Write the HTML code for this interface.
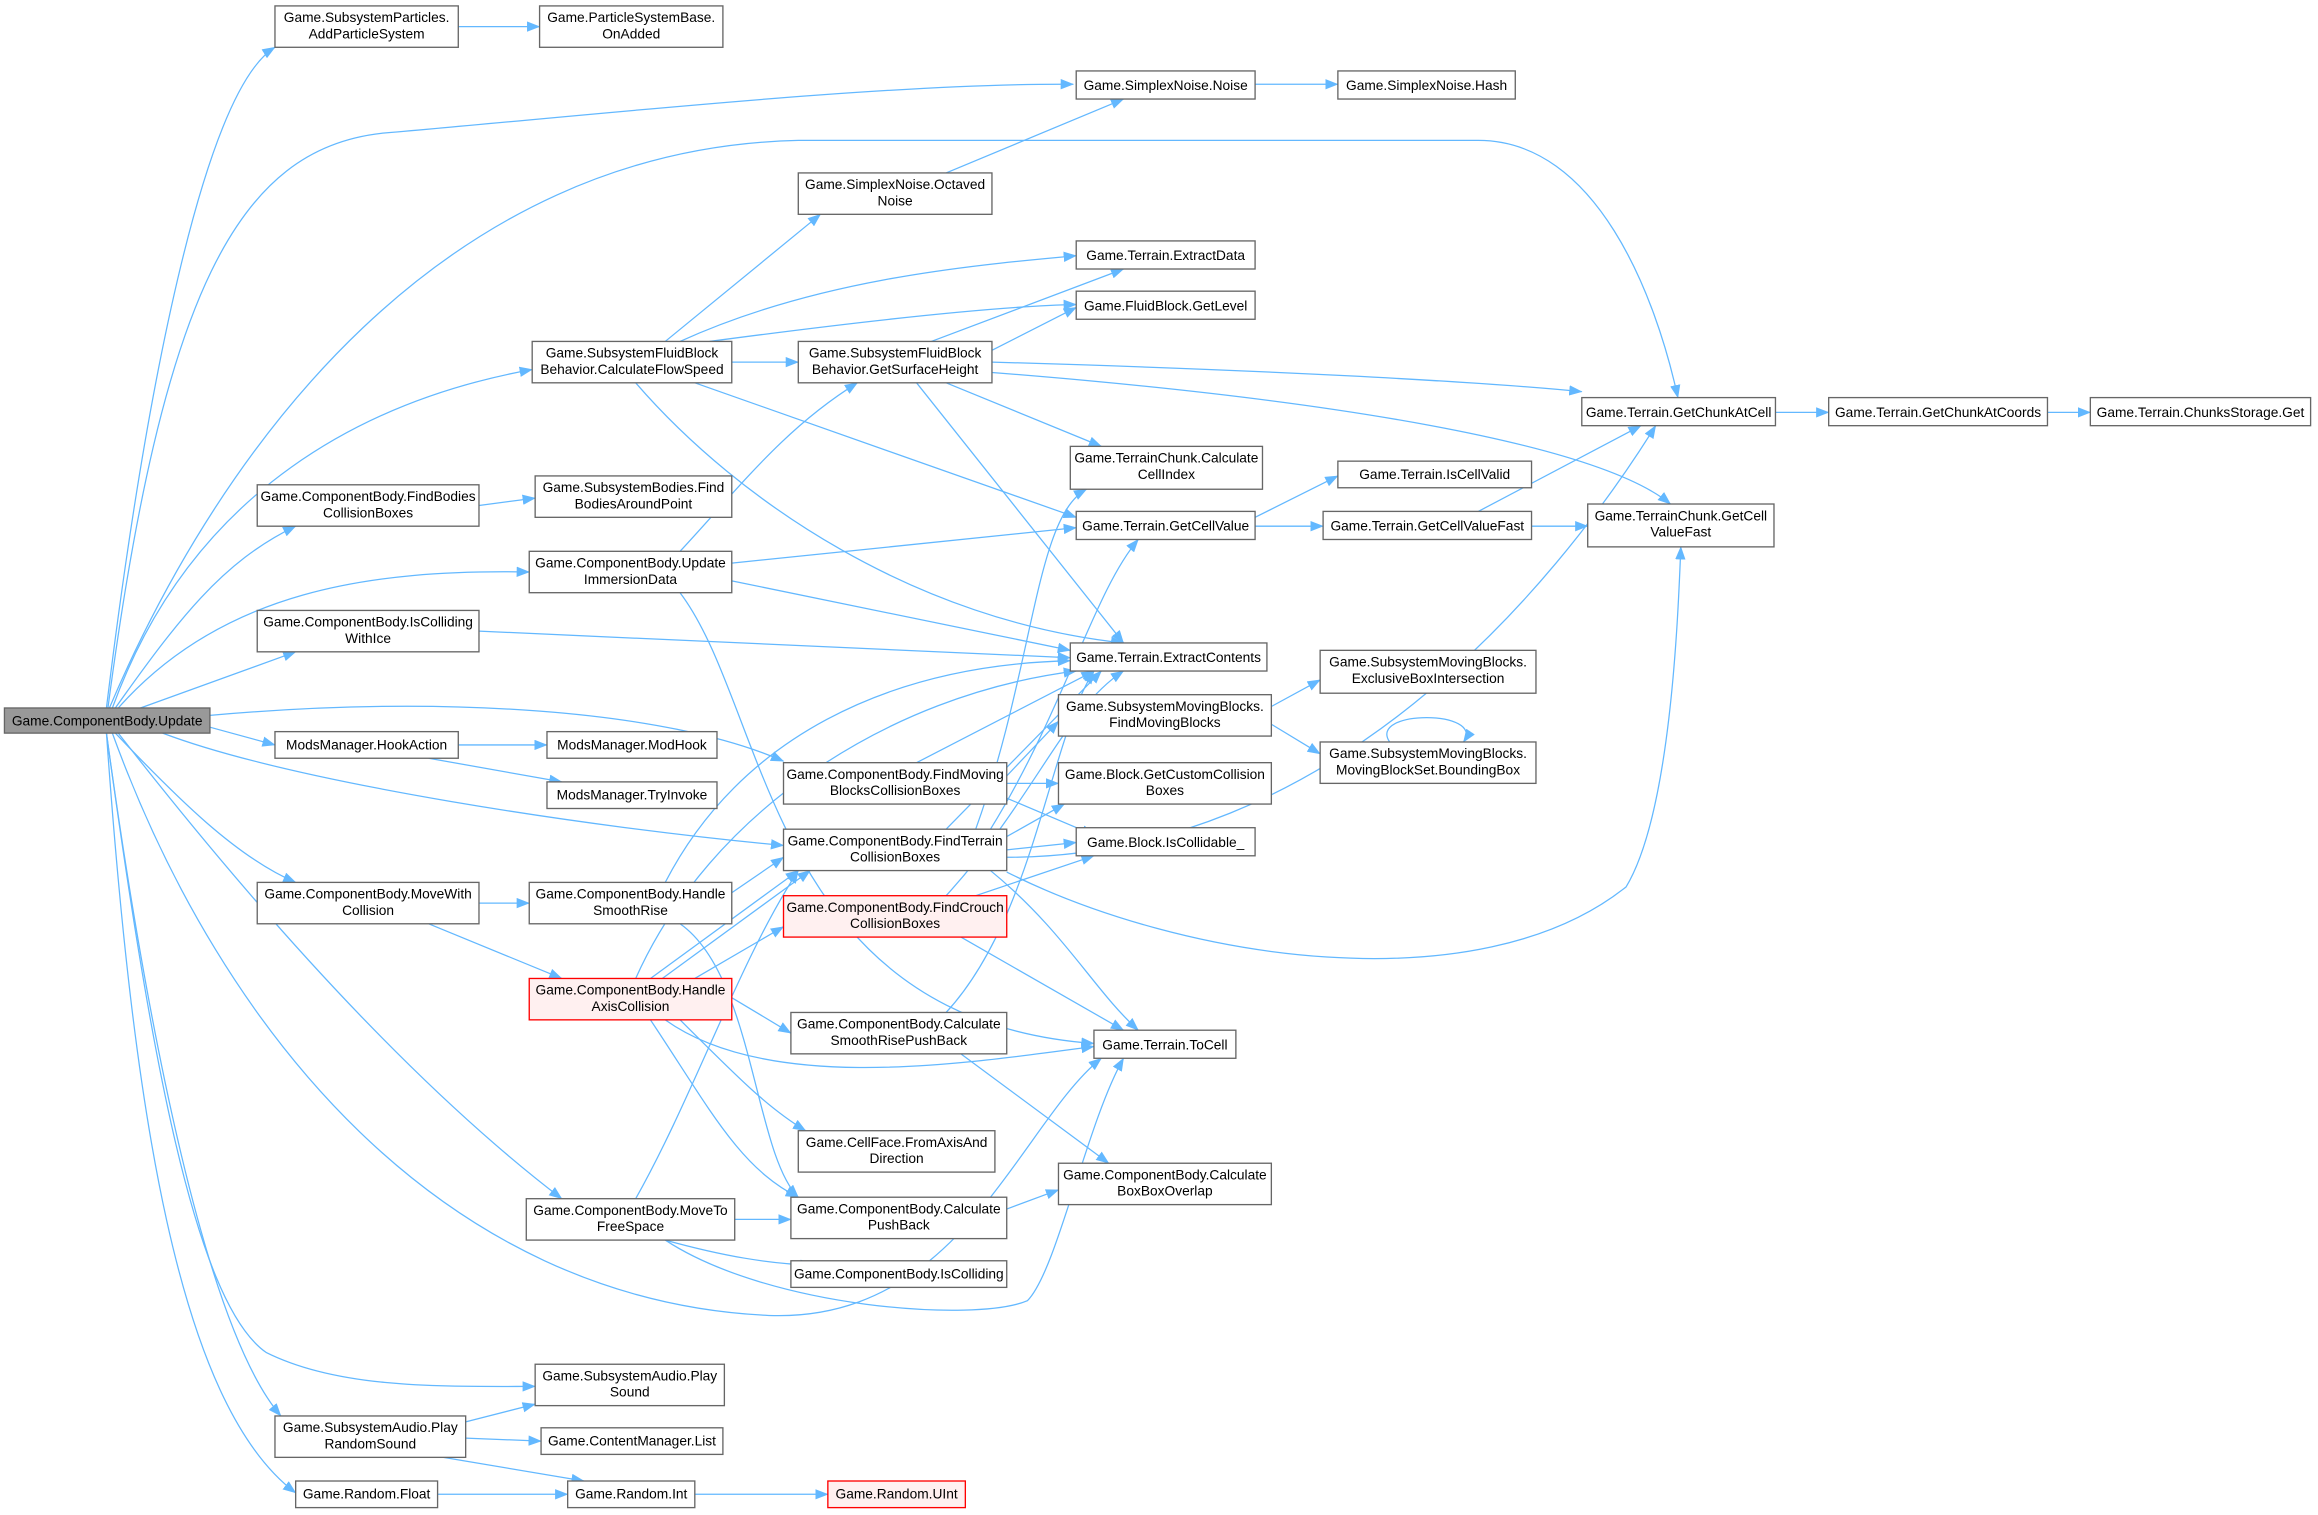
<!DOCTYPE html>
<html><head><meta charset="utf-8"><style>
html,body{margin:0;padding:0;background:#fff;}
svg{display:block;}
text{font-family:"Liberation Sans",Arial,sans-serif;font-size:9.3px;fill:#000;text-anchor:middle;}
.e{fill:none;stroke:#63b8ff;stroke-width:0.85;marker-end:url(#a);}
.n{fill:#fff;stroke:#666;stroke-width:0.9;}
.r{fill:#fff0f0;stroke:#ff0000;stroke-width:0.9;}
.g{fill:#999;stroke:#666;stroke-width:0.9;}
</style></head><body>
<svg width="2318" height="1515" viewBox="0 0 1568 1025" preserveAspectRatio="none" xmlns="http://www.w3.org/2000/svg">
<defs><marker id="a" markerWidth="9" markerHeight="7" refX="8.5" refY="3.5" orient="auto" markerUnits="userSpaceOnUse"><path d="M0,0 L9,3.5 L0,7 z" fill="#63b8ff"/></marker></defs>
<g>
<path class="e" d="M72,479 C100,250 140,60 186,32"/>
<path class="e" d="M73,479 C110,200 160,100 260,90 C400,78 600,56 726,57"/>
<path class="e" d="M74,479 C150,300 300,100 540,95 L1000,95 C1080,95 1120,200 1135,269"/>
<path class="e" d="M76,479 C130,330 250,270 360,250"/>
<path class="e" d="M78,479 C120,420 150,380 200,356"/>
<path class="e" d="M80,479 C150,400 250,385 358,387"/>
<path class="e" d="M95,479 C140,463 170,452 200,441"/>
<path class="e" d="M142,484 C300,470 450,480 530,515"/>
<path class="e" d="M142,492 L186,504"/>
<path class="e" d="M110,496 C200,530 400,560 530,572"/>
<path class="e" d="M78,496 C120,540 160,580 200,597"/>
<path class="e" d="M80,496 C200,650 300,750 380,811"/>
<path class="e" d="M76,496 C150,700 300,880 520,890 C650,895 690,760 745,716"/>
<path class="e" d="M72,496 C100,700 130,880 180,915 C230,940 300,938 362,938"/>
<path class="e" d="M72,496 C100,700 140,900 190,958"/>
<path class="e" d="M72,496 C90,750 120,950 200,1010"/>
<path class="e" d="M310,18 L365,18"/>
<path class="e" d="M849,57 L905,57"/>
<path class="e" d="M640,117 L760,67"/>
<path class="e" d="M450,231 L555,145"/>
<path class="e" d="M460,231 C550,190 650,180 728,173"/>
<path class="e" d="M480,231 C600,215 680,207 728,206"/>
<path class="e" d="M495,245 L540,245"/>
<path class="e" d="M470,259 L728,350"/>
<path class="e" d="M430,259 C500,340 620,420 760,435"/>
<path class="e" d="M630,231 L760,182"/>
<path class="e" d="M671,237 L728,208"/>
<path class="e" d="M671,245 C850,250 1000,258 1070,265"/>
<path class="e" d="M671,252 C900,270 1080,300 1130,341"/>
<path class="e" d="M640,259 L745,302"/>
<path class="e" d="M620,259 L760,435"/>
<path class="e" d="M1201,279 L1237,279"/>
<path class="e" d="M1385,279 L1414,279"/>
<path class="e" d="M324,342 L362,337"/>
<path class="e" d="M460,373 C500,330 530,290 580,259"/>
<path class="e" d="M495,381 L728,357"/>
<path class="e" d="M495,393 L724,440"/>
<path class="e" d="M460,401 C520,480 520,690 740,706"/>
<path class="e" d="M849,350 L905,322"/>
<path class="e" d="M849,356 L895,356"/>
<path class="e" d="M1000,346 L1110,288"/>
<path class="e" d="M1036,356 L1074,356"/>
<path class="e" d="M324,427 L724,445"/>
<path class="e" d="M310,504 L370,504"/>
<path class="e" d="M290,513 L380,529"/>
<path class="e" d="M620,516 L740,454"/>
<path class="e" d="M681,525 L716,488"/>
<path class="e" d="M681,530 L716,530"/>
<path class="e" d="M681,540 L740,565"/>
<path class="e" d="M860,478 L893,460"/>
<path class="e" d="M860,490 L893,510"/>
<path class="e" d="M940,502 C925,480 1005,480 990,502"/>
<path class="e" d="M640,561 L745,454"/>
<path class="e" d="M670,561 C720,480 740,400 770,365"/>
<path class="e" d="M681,566 L720,544"/>
<path class="e" d="M681,575 L728,570"/>
<path class="e" d="M681,580 C900,580 1050,400 1120,288"/>
<path class="e" d="M681,590 C800,650 1000,680 1100,600 C1130,550 1135,420 1137,370"/>
<path class="e" d="M670,589 C720,630 740,670 770,697"/>
<path class="e" d="M660,561 C700,450 700,350 735,331"/>
<path class="e" d="M640,606 C700,540 720,480 760,454"/>
<path class="e" d="M660,606 L740,579"/>
<path class="e" d="M650,634 L760,697"/>
<path class="e" d="M324,611 L358,611"/>
<path class="e" d="M290,625 L380,662"/>
<path class="e" d="M495,604 L530,580"/>
<path class="e" d="M450,597 C500,500 600,450 724,447"/>
<path class="e" d="M460,625 C510,660 510,780 540,810"/>
<path class="e" d="M440,662 L540,589"/>
<path class="e" d="M448,662 L548,589"/>
<path class="e" d="M430,662 C480,550 600,470 728,454"/>
<path class="e" d="M470,662 L530,627"/>
<path class="e" d="M495,675 L535,699"/>
<path class="e" d="M450,690 C520,740 650,720 740,708"/>
<path class="e" d="M460,690 C500,730 520,750 545,765"/>
<path class="e" d="M440,690 C480,750 500,790 540,810"/>
<path class="e" d="M640,685 C700,620 710,500 740,454"/>
<path class="e" d="M650,713 L750,787"/>
<path class="e" d="M430,811 C470,740 500,650 540,589"/>
<path class="e" d="M497,825 L535,825"/>
<path class="e" d="M450,839 C490,850 520,855 550,856"/>
<path class="e" d="M450,839 C520,885 660,895 695,880 C715,860 735,760 760,716"/>
<path class="e" d="M681,818 L716,805"/>
<path class="e" d="M315,962 L362,950"/>
<path class="e" d="M315,973 L366,975"/>
<path class="e" d="M300,986 L395,1002"/>
<path class="e" d="M296,1011 L384,1011"/>
<path class="e" d="M470,1011 L560,1011"/>
</g>
<g>
<rect class="g" x="3" y="479" width="139" height="17"/><text x="72.5" y="491">Game.ComponentBody.Update</text>
<rect class="n" x="186" y="4" width="124" height="28"/><text x="248" y="15">Game.SubsystemParticles.</text><text x="248" y="26">AddParticleSystem</text>
<rect class="n" x="365" y="4" width="124" height="28"/><text x="427" y="15">Game.ParticleSystemBase.</text><text x="427" y="26">OnAdded</text>
<rect class="n" x="728" y="48" width="121" height="19"/><text x="788.5" y="61">Game.SimplexNoise.Noise</text>
<rect class="n" x="905" y="48" width="120" height="19"/><text x="965" y="61">Game.SimplexNoise.Hash</text>
<rect class="n" x="540" y="117" width="131" height="28"/><text x="605.5" y="128">Game.SimplexNoise.Octaved</text><text x="605.5" y="139">Noise</text>
<rect class="n" x="728" y="163" width="121" height="19"/><text x="788.5" y="176">Game.Terrain.ExtractData</text>
<rect class="n" x="728" y="197" width="121" height="19"/><text x="788.5" y="210">Game.FluidBlock.GetLevel</text>
<rect class="n" x="360" y="231" width="135" height="28"/><text x="427.5" y="242">Game.SubsystemFluidBlock</text><text x="427.5" y="253">Behavior.CalculateFlowSpeed</text>
<rect class="n" x="540" y="231" width="131" height="28"/><text x="605.5" y="242">Game.SubsystemFluidBlock</text><text x="605.5" y="253">Behavior.GetSurfaceHeight</text>
<rect class="n" x="1070" y="269" width="131" height="19"/><text x="1135.5" y="282">Game.Terrain.GetChunkAtCell</text>
<rect class="n" x="1237" y="269" width="148" height="19"/><text x="1311" y="282">Game.Terrain.GetChunkAtCoords</text>
<rect class="n" x="1414" y="269" width="149" height="19"/><text x="1488.5" y="282">Game.Terrain.ChunksStorage.Get</text>
<rect class="n" x="724" y="302" width="130" height="29"/><text x="789" y="313">Game.TerrainChunk.Calculate</text><text x="789" y="324">CellIndex</text>
<rect class="n" x="905" y="312" width="131" height="18"/><text x="970.5" y="324">Game.Terrain.IsCellValid</text>
<rect class="n" x="174" y="328" width="150" height="28"/><text x="249" y="339">Game.ComponentBody.FindBodies</text><text x="249" y="350">CollisionBoxes</text>
<rect class="n" x="362" y="322" width="133" height="28"/><text x="428.5" y="333">Game.SubsystemBodies.Find</text><text x="428.5" y="344">BodiesAroundPoint</text>
<rect class="n" x="728" y="346" width="121" height="19"/><text x="788.5" y="359">Game.Terrain.GetCellValue</text>
<rect class="n" x="895" y="346" width="141" height="19"/><text x="965.5" y="359">Game.Terrain.GetCellValueFast</text>
<rect class="n" x="1074" y="341" width="126" height="29"/><text x="1137" y="352">Game.TerrainChunk.GetCell</text><text x="1137" y="363">ValueFast</text>
<rect class="n" x="358" y="373" width="137" height="28"/><text x="426.5" y="384">Game.ComponentBody.Update</text><text x="426.5" y="395">ImmersionData</text>
<rect class="n" x="174" y="413" width="150" height="28"/><text x="249" y="424">Game.ComponentBody.IsColliding</text><text x="249" y="435">WithIce</text>
<rect class="n" x="724" y="435" width="133" height="19"/><text x="790.5" y="448">Game.Terrain.ExtractContents</text>
<rect class="n" x="893" y="440" width="146" height="29"/><text x="966" y="451">Game.SubsystemMovingBlocks.</text><text x="966" y="462">ExclusiveBoxIntersection</text>
<rect class="n" x="716" y="470" width="144" height="28"/><text x="788" y="481">Game.SubsystemMovingBlocks.</text><text x="788" y="492">FindMovingBlocks</text>
<rect class="n" x="186" y="495" width="124" height="18"/><text x="248" y="507">ModsManager.HookAction</text>
<rect class="n" x="370" y="495" width="115" height="18"/><text x="427.5" y="507">ModsManager.ModHook</text>
<rect class="n" x="370" y="529" width="115" height="18"/><text x="427.5" y="541">ModsManager.TryInvoke</text>
<rect class="n" x="530" y="516" width="151" height="28"/><text x="605.5" y="527">Game.ComponentBody.FindMoving</text><text x="605.5" y="538">BlocksCollisionBoxes</text>
<rect class="n" x="893" y="502" width="146" height="28"/><text x="966" y="513">Game.SubsystemMovingBlocks.</text><text x="966" y="524">MovingBlockSet.BoundingBox</text>
<rect class="n" x="716" y="516" width="144" height="28"/><text x="788" y="527">Game.Block.GetCustomCollision</text><text x="788" y="538">Boxes</text>
<rect class="n" x="728" y="560" width="121" height="19"/><text x="788.5" y="573">Game.Block.IsCollidable_</text>
<rect class="n" x="530" y="561" width="151" height="28"/><text x="605.5" y="572">Game.ComponentBody.FindTerrain</text><text x="605.5" y="583">CollisionBoxes</text>
<rect class="n" x="174" y="597" width="150" height="28"/><text x="249" y="608">Game.ComponentBody.MoveWith</text><text x="249" y="619">Collision</text>
<rect class="n" x="358" y="597" width="137" height="28"/><text x="426.5" y="608">Game.ComponentBody.Handle</text><text x="426.5" y="619">SmoothRise</text>
<rect class="r" x="530" y="606" width="151" height="28"/><text x="605.5" y="617">Game.ComponentBody.FindCrouch</text><text x="605.5" y="628">CollisionBoxes</text>
<rect class="r" x="358" y="662" width="137" height="28"/><text x="426.5" y="673">Game.ComponentBody.Handle</text><text x="426.5" y="684">AxisCollision</text>
<rect class="n" x="535" y="685" width="146" height="28"/><text x="608" y="696">Game.ComponentBody.Calculate</text><text x="608" y="707">SmoothRisePushBack</text>
<rect class="n" x="740" y="697" width="96" height="19"/><text x="788" y="710">Game.Terrain.ToCell</text>
<rect class="n" x="540" y="765" width="133" height="28"/><text x="606.5" y="776">Game.CellFace.FromAxisAnd</text><text x="606.5" y="787">Direction</text>
<rect class="n" x="716" y="787" width="144" height="28"/><text x="788" y="798">Game.ComponentBody.Calculate</text><text x="788" y="809">BoxBoxOverlap</text>
<rect class="n" x="356" y="811" width="141" height="28"/><text x="426.5" y="822">Game.ComponentBody.MoveTo</text><text x="426.5" y="833">FreeSpace</text>
<rect class="n" x="535" y="810" width="146" height="28"/><text x="608" y="821">Game.ComponentBody.Calculate</text><text x="608" y="832">PushBack</text>
<rect class="n" x="535" y="853" width="146" height="18"/><text x="608" y="865">Game.ComponentBody.IsColliding</text>
<rect class="n" x="362" y="923" width="128" height="28"/><text x="426" y="934">Game.SubsystemAudio.Play</text><text x="426" y="945">Sound</text>
<rect class="n" x="186" y="958" width="129" height="28"/><text x="250.5" y="969">Game.SubsystemAudio.Play</text><text x="250.5" y="980">RandomSound</text>
<rect class="n" x="366" y="966" width="123" height="18"/><text x="427.5" y="978">Game.ContentManager.List</text>
<rect class="n" x="200" y="1002" width="96" height="18"/><text x="248" y="1014">Game.Random.Float</text>
<rect class="n" x="384" y="1002" width="86" height="18"/><text x="427" y="1014">Game.Random.Int</text>
<rect class="r" x="560" y="1002" width="93" height="18"/><text x="606.5" y="1014">Game.Random.UInt</text>
</g>
</svg>
</body></html>
